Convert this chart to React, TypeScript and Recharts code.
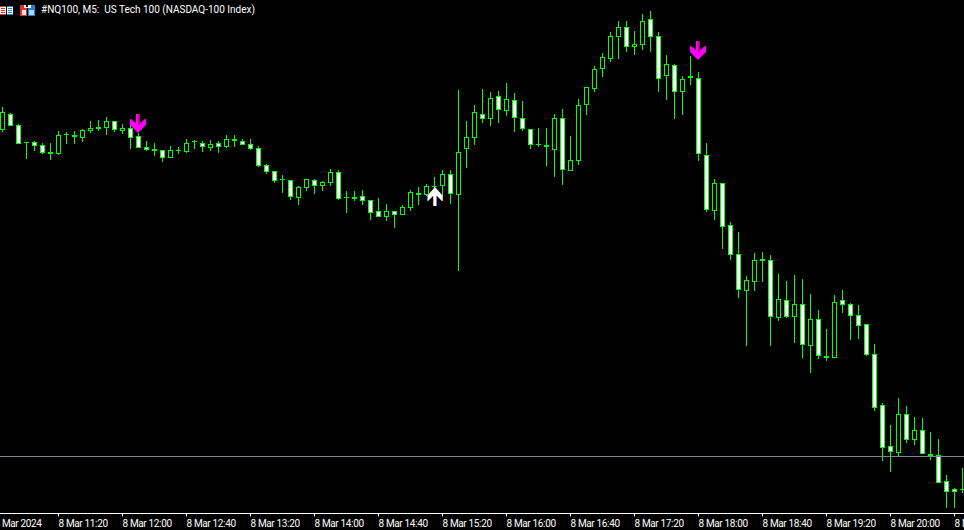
import { Bar, ComposedChart, ReferenceLine, Scatter, XAxis, YAxis } from 'recharts';

const opens = [
  18370, 18386, 18375, 18358, 18358, 18355, 18348, 18346, 18366, 18365,
  18362, 18369, 18373, 18372, 18379, 18369, 18372, 18364, 18353, 18351,
  18350, 18342, 18350, 18348, 18359, 18357, 18352, 18357, 18353, 18361,
  18359, 18356, 18352, 18335, 18329, 18321, 18320, 18302, 18312, 18320,
  18314, 18317, 18328, 18303, 18303, 18304, 18300, 18289, 18283, 18289,
  18285, 18292, 18307, 18305, 18314, 18314, 18326, 18305, 18351, 18362,
  18386, 18381, 18404, 18389, 18400, 18382, 18371, 18356, 18355, 18350,
  18382, 18329, 18339, 18395, 18411, 18431, 18441, 18463, 18473, 18453,
  18455, 18481, 18464, 18424, 18435, 18408, 18424, 18422, 18345, 18289,
  18317, 18275, 18246, 18209, 18218, 18241, 18240, 18182, 18200, 18183,
  18196, 18154, 18181, 18144, 18142, 18200, 18196, 18185, 18176, 18146,
  18095, 18054, 18047, 18086, 18060, 18070, 18046, 18045, 18019, 18011,
  18011,
];
const highs = [
  18393, 18387, 18376, 18358, 18359, 18357, 18357, 18369, 18368, 18369,
  18371, 18379, 18380, 18383, 18379, 18376, 18375, 18367, 18359, 18357,
  18350, 18354, 18353, 18361, 18360, 18359, 18360, 18359, 18365, 18365,
  18361, 18361, 18354, 18336, 18329, 18325, 18320, 18314, 18321, 18321,
  18319, 18331, 18330, 18309, 18309, 18310, 18300, 18302, 18296, 18289,
  18295, 18310, 18313, 18316, 18323, 18330, 18330, 18410, 18379, 18395,
  18411, 18408, 18409, 18417, 18407, 18399, 18371, 18372, 18372, 18386,
  18391, 18364, 18401, 18413, 18434, 18447, 18468, 18479, 18479, 18469,
  18486, 18489, 18468, 18445, 18436, 18424, 18444, 18428, 18357, 18321,
  18317, 18278, 18268, 18224, 18247, 18248, 18245, 18226, 18219, 18225,
  18221, 18206, 18190, 18171, 18205, 18210, 18197, 18195, 18176, 18156,
  18097, 18075, 18102, 18094, 18083, 18082, 18068, 18061, 18025, 18012,
  18032,
];
const lows = [
  18368, 18374, 18356, 18341, 18349, 18346, 18340, 18345, 18356, 18356,
  18358, 18367, 18369, 18365, 18368, 18366, 18351, 18352, 18349, 18344,
  18338, 18342, 18346, 18347, 18351, 18348, 18349, 18347, 18352, 18353,
  18355, 18350, 18333, 18326, 18317, 18307, 18300, 18295, 18309, 18306,
  18309, 18314, 18300, 18287, 18299, 18295, 18280, 18283, 18279, 18272,
  18285, 18289, 18295, 18304, 18294, 18300, 18296, 18229, 18332, 18355,
  18377, 18374, 18377, 18384, 18368, 18369, 18351, 18353, 18334, 18323,
  18315, 18329, 18335, 18385, 18408, 18423, 18438, 18441, 18448, 18445,
  18450, 18448, 18408, 18400, 18381, 18385, 18415, 18339, 18288, 18280,
  18251, 18240, 18202, 18154, 18209, 18218, 18154, 18179, 18182, 18157,
  18142, 18127, 18141, 18139, 18142, 18187, 18160, 18161, 18144, 18089,
  18039, 18028, 18043, 18057, 18055, 18046, 18040, 18017, 17992, 17992,
  18007,
];
const closes = [
  18388, 18374, 18356, 18357, 18354, 18347, 18346, 18365, 18365, 18363,
  18370, 18372, 18371, 18379, 18370, 18372, 18362, 18352, 18350, 18349,
  18342, 18350, 18349, 18357, 18358, 18353, 18356, 18353, 18361, 18359,
  18355, 18351, 18334, 18328, 18319, 18320, 18303, 18313, 18321, 18314,
  18318, 18328, 18301, 18302, 18301, 18299, 18287, 18283, 18289, 18285,
  18293, 18308, 18305, 18314, 18313, 18326, 18306, 18348, 18363, 18388,
  18381, 18402, 18390, 18401, 18382, 18371, 18355, 18355, 18353, 18382,
  18330, 18340, 18395, 18413, 18431, 18443, 18464, 18473, 18453, 18456,
  18479, 18463, 18421, 18436, 18408, 18421, 18422, 18346, 18290, 18317,
  18273, 18245, 18210, 18220, 18240, 18239, 18183, 18201, 18183, 18196,
  18155, 18181, 18144, 18142, 18198, 18195, 18184, 18174, 18145, 18092,
  18052, 18048, 18086, 18060, 18070, 18046, 18044, 18017, 18008, 18008,
  18010,
];

const tickBars = [-1, 7, 15, 23, 31, 39, 47, 55, 63, 71, 79, 87, 95, 103, 111, 119];
const tickLabels = [
  '8 Mar 2024', '8 Mar 11:20', '8 Mar 12:00', '8 Mar 12:40', '8 Mar 13:20', '8 Mar 14:00',
  '8 Mar 14:40', '8 Mar 15:20', '8 Mar 16:00', '8 Mar 16:40', '8 Mar 17:20', '8 Mar 18:00',
  '8 Mar 18:40', '8 Mar 19:20', '8 Mar 20:00', '8 Mar 20:40',
];

const sellBars = [17, 87];
const sellPrices = [18367, 18440];
const buyBars = [54];
const buyPrices = [18313];
const bidPrice = 18043.5;

const candles = opens.map((open, i) => ({
  bar: i,
  open,
  close: closes[i],
  high: highs[i],
  low: lows[i],
  range: [lows[i], highs[i]],
}));
const sellSignals = sellBars.map((bar, i) => ({ bar, price: sellPrices[i] }));
const buySignals = buyBars.map((bar, i) => ({ bar, price: buyPrices[i] }));

const GREEN = '#00ff00';

const Candle = (props: any) => {
  const { x, y, width, height, payload } = props;
  const perPoint = height / (payload.high - payload.low);
  const left = Math.round(x);
  const top = Math.round(y + (payload.high - Math.max(payload.open, payload.close)) * perPoint);
  const bodyH = Math.max(1, Math.round(Math.abs(payload.open - payload.close) * perPoint));
  const falling = payload.close < payload.open;
  return (
    <g shapeRendering="crispEdges">
      <rect x={left + 2} y={Math.round(y)} width={1} height={Math.round(height)} fill={GREEN} />
      <rect x={left} y={top} width={width} height={bodyH} fill={GREEN} />
      {bodyH > 2 && (
        <rect x={left + 1} y={top + 1} width={width - 2} height={bodyH - 2} fill={falling ? '#ffffff' : '#000000'} />
      )}
    </g>
  );
};

const SellArrow = ({ cx, cy }: any) => {
  const c = Math.floor(cx);
  const t = Math.round(cy);
  return (
    <g>
      <path
        d={`M${c - 2} ${t - 19}H${c + 2}V${t - 10}L${c + 7} ${t - 14}H${c + 8}V${t - 8}L${c} ${t}L${c - 8} ${t - 8}V${t - 14}H${c - 7}L${c - 2} ${t - 10}Z`}
        fill="#ff00ff"
      />
      <rect x={c} y={t - 19} width={2} height={11} fill="#c00080" />
    </g>
  );
};

const BuyArrow = ({ cx, cy }: any) => {
  const c = Math.round(cx);
  const t = Math.round(cy);
  return (
    <g>
      <path
        d={`M${c} ${t}L${c + 8} ${t + 9}V${t + 14}H${c + 7}L${c + 2} ${t + 9}V${t + 19}H${c - 2}V${t + 9}L${c - 7} ${t + 14}H${c - 8}V${t + 9}Z`}
        fill="#ffffff"
      />
      <rect x={c - 2} y={t + 9} width={1} height={10} fill="#ffb060" />
      <rect x={c + 1} y={t + 9} width={1} height={10} fill="#5090ff" />
      <rect x={c - 8} y={t + 9} width={1} height={5} fill="#5090ff" />
      <rect x={c + 7} y={t + 9} width={1} height={5} fill="#ffb060" />
    </g>
  );
};

const TimeTick = ({ x, y, index }: any) => (
  <text x={x} y={y + 8} textAnchor="start" fill="#ffffff" fontFamily="Roboto" fontSize={10} letterSpacing={-0.35}>
    {tickLabels[index]}
  </text>
);

const App = () => {
  return (
    <div style={{ position: 'absolute', left: 0, top: 0, width: 964, height: 530, background: '#000', overflow: 'hidden' }}>
      <ComposedChart width={964} height={530} data={candles} margin={{ top: 0, right: 0, bottom: 0, left: 0 }}>
        <XAxis
          type="number"
          dataKey="bar"
          domain={[-0.3125, 120.1875]}
          allowDataOverflow
          ticks={tickBars}
          interval={0}
          height={16.5}
          stroke="#ffffff"
          tickSize={3}
          tick={<TimeTick />}
        />
        <YAxis hide domain={[17986.5, 18500]} allowDataOverflow />
        <ReferenceLine y={bidPrice} stroke="#778899" strokeWidth={1} />
        <Bar dataKey="range" barSize={5} shape={<Candle />} isAnimationActive={false} />
        <Scatter data={sellSignals} dataKey="price" shape={<SellArrow />} isAnimationActive={false} />
        <Scatter data={buySignals} dataKey="price" shape={<BuyArrow />} isAnimationActive={false} />
      </ComposedChart>
      <svg width={36} height={18} style={{ position: 'absolute', left: 0, top: 0 }} shapeRendering="crispEdges">
        <rect x={0} y={6} width={6} height={9} fill="#ffffff" />
        <rect x={7} y={6} width={6} height={9} fill="#ffffff" />
        <rect x={0} y={6} width={6} height={1} fill="#e03030" />
        <rect x={1} y={8} width={4} height={1} fill="#e03030" />
        <rect x={1} y={10} width={4} height={1} fill="#e03030" />
        <rect x={1} y={12} width={4} height={1} fill="#e03030" />
        <rect x={0} y={14} width={6} height={1} fill="#e03030" />
        <rect x={7} y={6} width={6} height={1} fill="#2080d0" />
        <rect x={8} y={8} width={4} height={1} fill="#2080d0" />
        <rect x={8} y={10} width={4} height={1} fill="#2080d0" />
        <rect x={8} y={12} width={4} height={1} fill="#2080d0" />
        <rect x={7} y={14} width={6} height={1} fill="#2080d0" />
        <rect x={20} y={5} width={7} height={11} fill="#e03030" />
        <rect x={28} y={5} width={7} height={11} fill="#2080d0" />
        <rect x={22} y={10} width={4} height={5} fill="#ffe0e0" />
        <rect x={29} y={10} width={5} height={5} fill="#a0d8ff" />
        <rect x={24} y={5} width={7} height={3} fill="#ffffff" />
        <rect x={26} y={5} width={2} height={2} fill="#000000" />
      </svg>
      <div style={{ position: 'absolute', left: 41, top: 3, color: '#fff', fontFamily: 'Roboto', fontSize: 10, lineHeight: '14px', whiteSpace: 'pre' }}>
        {'#NQ100, M5:  US Tech 100 (NASDAQ-100 Index)'}
      </div>
    </div>
  );
};

export default App;
